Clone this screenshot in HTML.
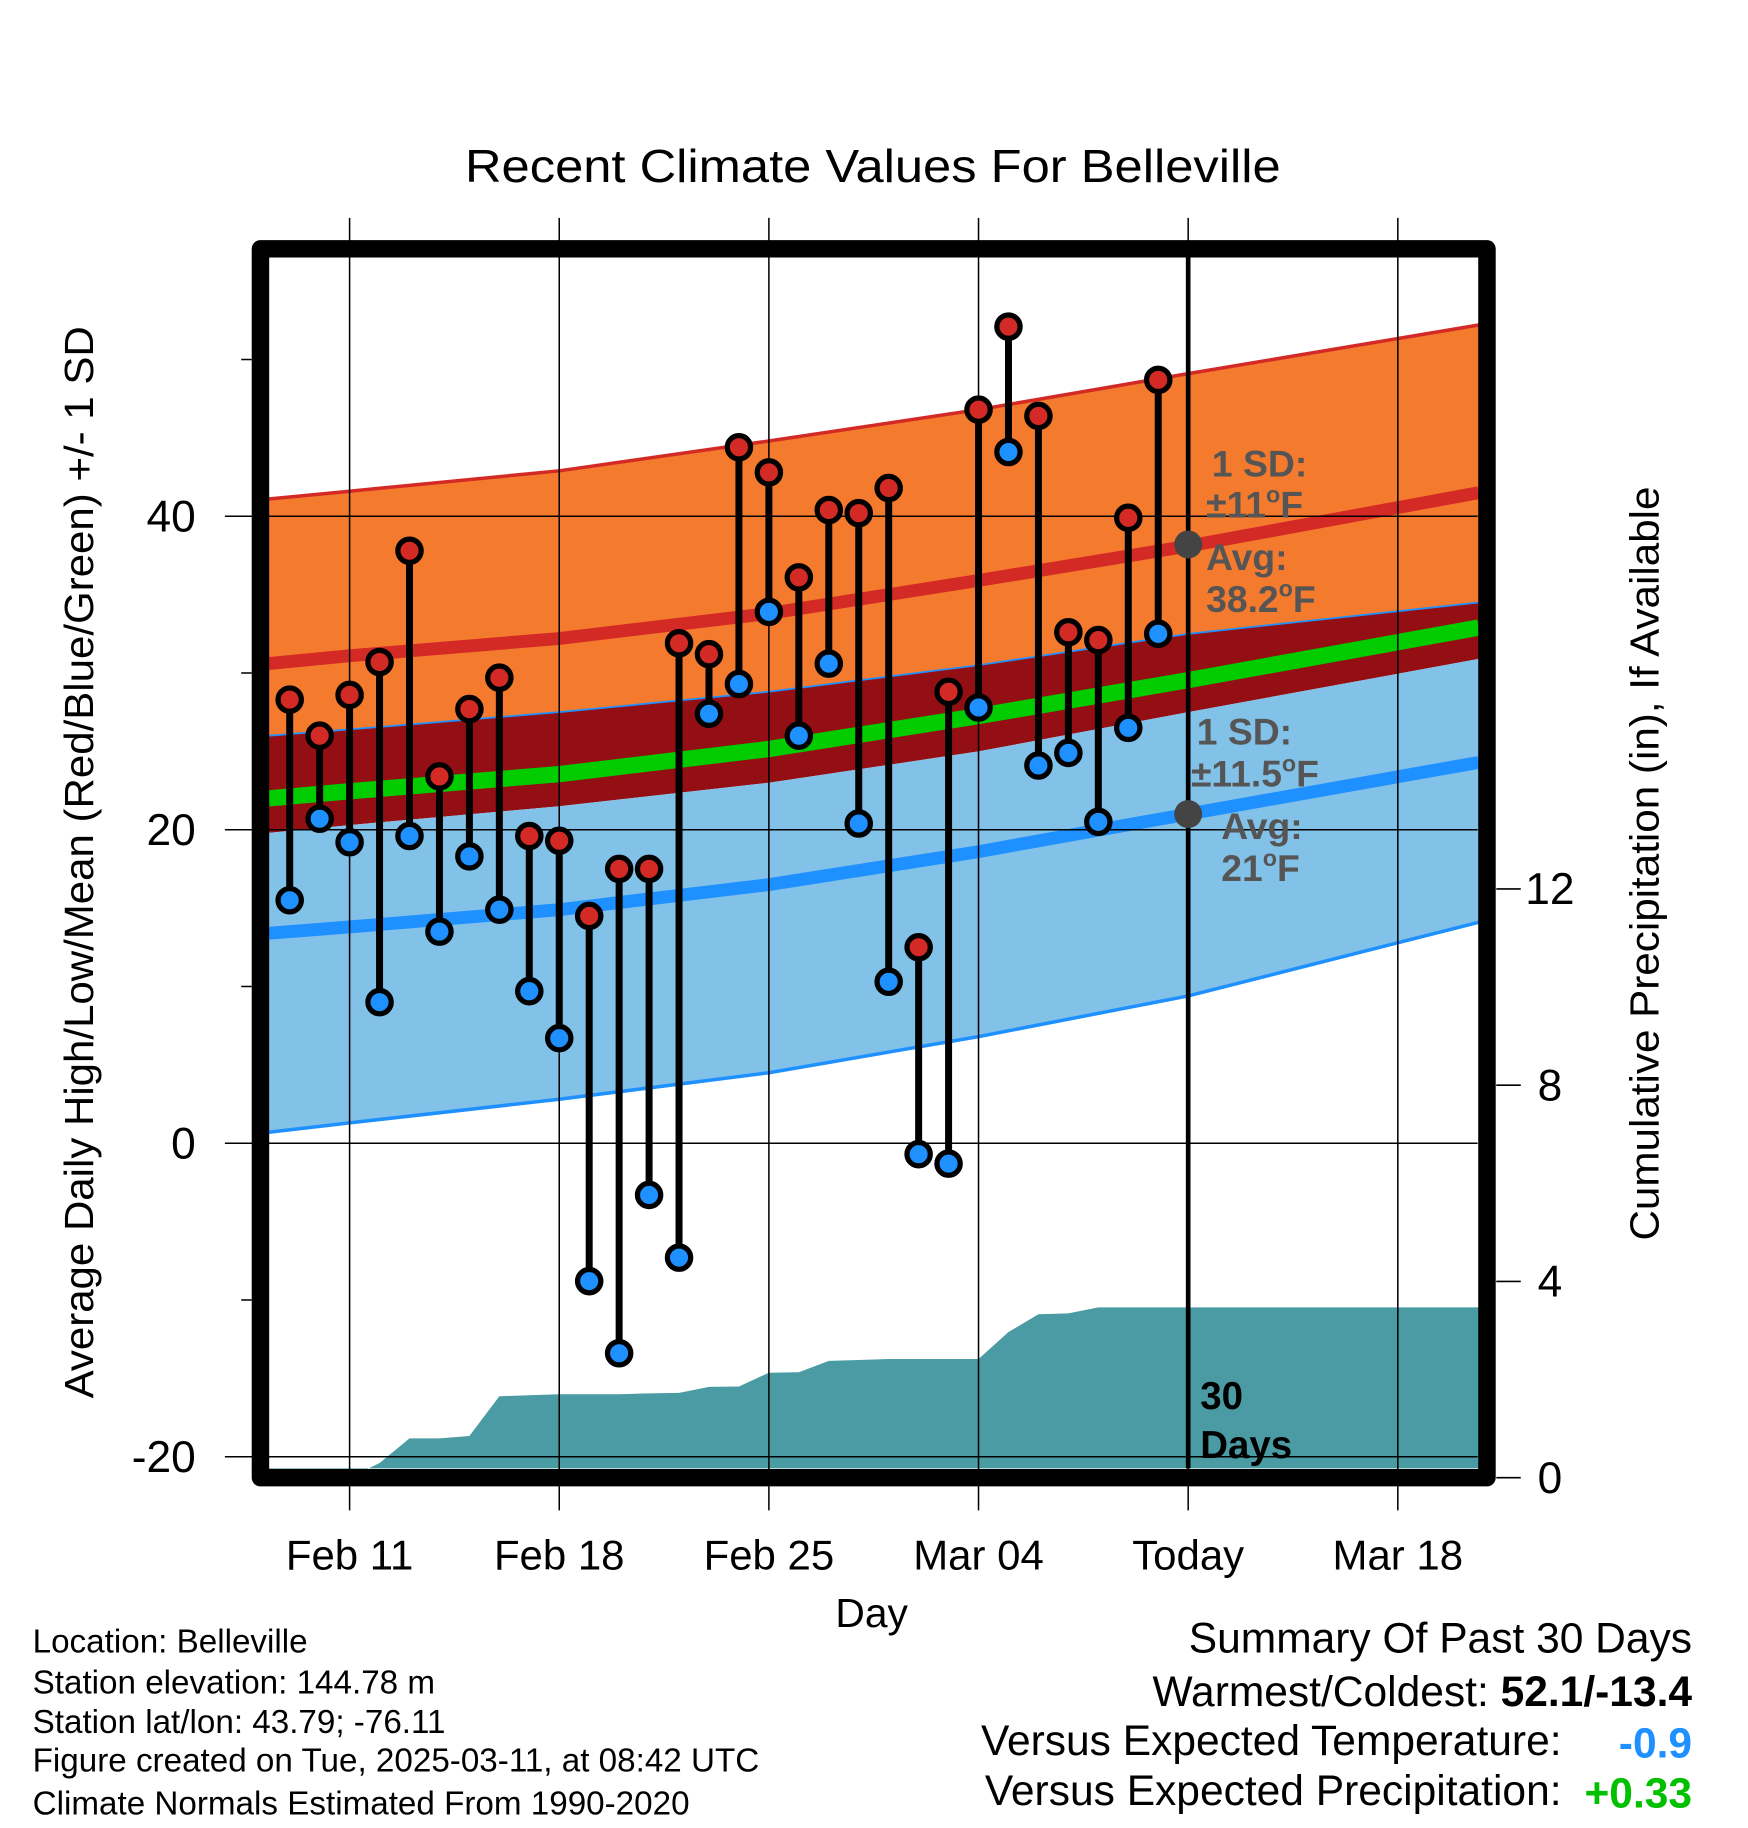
<!DOCTYPE html>
<html><head><meta charset="utf-8"><style>
html,body{margin:0;padding:0;background:#fff;}
svg{display:block;font-family:"Liberation Sans",sans-serif;}
</style></head><body>
<svg id="c" width="1748" height="1828" viewBox="0 0 1500 1568.6" preserveAspectRatio="none" xmlns="http://www.w3.org/2000/svg">
<g id="bands"></g>
<g id="grid"></g>
<g id="marks"></g>
<g id="frame"></g>
<text x="749" y="156" font-size="40" text-anchor="middle" textLength="700" lengthAdjust="spacingAndGlyphs">Recent Climate Values For Belleville</text>
<text x="748" y="1396" font-size="35" text-anchor="middle">Day</text>
<text transform="translate(80,740) rotate(-90)" font-size="35" text-anchor="middle" textLength="920" lengthAdjust="spacingAndGlyphs">Average Daily High/Low/Mean (Red/Blue/Green) +/- 1 SD</text>
<text transform="translate(1423,741) rotate(-90)" font-size="35" text-anchor="middle" textLength="647" lengthAdjust="spacingAndGlyphs">Cumulative Precipitation (in), If Available</text>
<g font-size="32" font-weight="bold" fill="#555">
<text x="1040" y="409">1 SD:</text>
<text x="1035" y="444">±11<tspan font-size="20" dy="-13">o</tspan><tspan dy="13">F</tspan></text>
<text x="1035" y="489">Avg:</text>
<text x="1035" y="525">38.2<tspan font-size="20" dy="-13">o</tspan><tspan dy="13">F</tspan></text>
</g>
<g font-size="32" font-weight="bold" fill="#555">
<text x="1027" y="639">1 SD:</text>
<text x="1022" y="675">±11.5<tspan font-size="20" dy="-13">o</tspan><tspan dy="13">F</tspan></text>
<text x="1048" y="720">Avg:</text>
<text x="1048" y="756">21<tspan font-size="20" dy="-13">o</tspan><tspan dy="13">F</tspan></text>
</g>
<g font-size="33" font-weight="bold">
<text x="1030" y="1209">30</text><text x="1030" y="1251">Days</text>
</g>
<g font-size="28.5">
<text x="28" y="1418">Location: Belleville</text>
<text x="28" y="1453">Station elevation: 144.78 m</text>
<text x="28" y="1487">Station lat/lon: 43.79; -76.11</text>
<text x="28" y="1520">Figure created on Tue, 2025-03-11, at 08:42 UTC</text>
<text x="28" y="1557">Climate Normals Estimated From 1990-2020</text>
</g>
<g font-size="36.5">
<text x="1452" y="1418" text-anchor="end">Summary Of Past 30 Days</text>
<text x="1452" y="1464" text-anchor="end">Warmest/Coldest: <tspan font-weight="bold">52.1/-13.4</tspan></text>
<text x="1340" y="1506" text-anchor="end">Versus Expected Temperature:</text>
<text x="1452" y="1508" text-anchor="end" font-weight="bold" fill="#1e90ff">-0.9</text>
<text x="1340" y="1549" text-anchor="end">Versus Expected Precipitation:</text>
<text x="1452" y="1551" text-anchor="end" font-weight="bold" fill="#00c000">+0.33</text>
</g>
</svg>
<script>
const normDays=[-2.7,0,7,14,21,28,37.7];
const highPlus=[41.1,41.6,42.9,44.8,46.8,49.1,52.2];
const highAvg=[30.6,31.1,32.2,33.8,35.9,38.1,41.5];
const highMinus=[26.0,26.4,27.5,28.8,30.5,32.5,34.5];
const lowPlus=[19.8,20.3,21.5,23.0,25.0,27.5,30.9];
const lowAvg=[13.4,13.8,14.9,16.5,18.6,21.0,24.3];
const lowMinus=[0.7,1.3,2.8,4.5,6.8,9.4,14.1];
const obsDays=[-2,-1,0,1,2,3,4,5,6,7,8,9,10,11,12,13,14,15,16,17,18,19,20,21,22,23,24,25,26,27];
const highs=[28.3,26.0,28.6,30.7,37.8,23.4,27.7,29.7,19.6,19.3,14.5,17.5,17.5,31.9,31.2,44.4,42.8,36.1,40.4,40.2,41.8,12.5,28.8,46.8,52.1,46.4,32.6,32.1,39.9,48.7];
const lows=[15.5,20.7,19.2,9.0,19.6,13.5,18.3,14.9,9.7,6.7,-8.8,-13.4,-3.3,-7.3,27.4,29.3,33.9,26.0,30.6,20.4,10.3,-0.7,-1.3,27.8,44.1,24.1,24.9,20.5,26.5,32.5];
const precipDays=[-2.7,0,1,2,3,4,5,6,7,8,9,10,11,12,13,14,15,16,17,18,19,20,21,22,23,24,25,37.7];
const precipVals=[0,0,0.3,0.8,0.8,0.85,1.66,1.68,1.7,1.7,1.7,1.72,1.73,1.85,1.86,2.14,2.15,2.38,2.4,2.42,2.42,2.42,2.42,2.97,3.33,3.35,3.47,3.47];
const xTickDays=[0,7,14,21,28,35];
const xTickLabels=["Feb 11","Feb 18","Feb 25","Mar 04","Today","Mar 18"];
const yTicks=[-20,0,20,40];
const yMinor=[-10,10,30,50];
const pTicks=[0,4,8,12];
const todayDay=28;

const NS="http://www.w3.org/2000/svg";
const X=d=>300+25.7*d;
const Y=v=>981-13.45*v;
const P=p=>1268-42.1*p;
const L=231,R=1268,T=221,B=1260;
function el(t,a,p){const e=document.createElementNS(NS,t);for(const k in a)e.setAttribute(k,a[k]);p.appendChild(e);return e;}
const bands=document.getElementById('bands'),grid=document.getElementById('grid'),marks=document.getElementById('marks'),frame=document.getElementById('frame');
function pts(arr,days,f){return days.map((d,i)=>X(d).toFixed(1)+','+f(arr[i]).toFixed(1));}
function band(up,lo,fill,name){
  const p=pts(up,normDays,Y).concat(pts(lo,normDays,Y).reverse());
  const e=el('polygon',{points:p.join(' '),fill:fill},bands);
  
  
}
function line(arr,stroke,w,name){
  const e=el('polyline',{points:pts(arr,normDays,Y).join(' '),fill:'none',stroke:stroke,'stroke-width':w},bands);
  
  
}
const meanArr=highAvg.map((h,i)=>(h+lowAvg[i])/2);
band(highPlus,highMinus,'#f47a2e','high-sd-band');
band(highMinus,lowPlus,'#930f14','overlap-band');
band(lowPlus,lowMinus,'#82c1e8','low-sd-band');
line(highPlus,'#d42a26',3,'high-plus-sd-line');
line(highAvg,'#d42a26',11,'high-avg-line');
line(highMinus,'#1e90ff',1.5,'high-minus-sd-line');
line(meanArr,'#00cc00',14,'mean-line');
line(lowAvg,'#1e90ff',11,'low-avg-line');
line(lowMinus,'#1e90ff',3,'low-minus-sd-line');
{
  const p=pts(precipVals,precipDays,P);p.push(X(37.7)+','+B,X(-2.7)+','+B);
  const e=el('polygon',{points:p.join(' '),fill:'#4a9ba3'},bands);
  
  
}
xTickDays.forEach((d,i)=>{
  const g=el('line',{x1:X(d),x2:X(d),y1:187,y2:1296,stroke:'#000','stroke-width':1.3},grid);
  
  
  const t=el('text',{x:X(d),y:1347,'font-size':36,'text-anchor':'middle'},grid);
  t.textContent=xTickLabels[i];
  
  
});
yTicks.forEach(v=>{
  const g=el('line',{x1:193,x2:R,y1:Y(v),y2:Y(v),stroke:'#000','stroke-width':1.3},grid);
  
  
  const t=el('text',{x:168,y:Y(v)+13,'font-size':38,'text-anchor':'end'},grid);
  t.textContent=v;
  
  
});
yMinor.forEach(v=>{
  const g=el('line',{x1:207,x2:216,y1:Y(v),y2:Y(v),stroke:'#000','stroke-width':1.3},grid);
  
  
});
pTicks.forEach(v=>{
  const g=el('line',{x1:1284,x2:1305,y1:P(v),y2:P(v),stroke:'#000','stroke-width':1.3},grid);
  
  
  const t=el('text',{x:1330,y:P(v)+13,'font-size':38,'text-anchor':'middle'},grid);
  t.textContent=v;
  
  
});
{
  const e=el('line',{x1:X(todayDay),x2:X(todayDay),y1:T,y2:B,stroke:'#000','stroke-width':4},marks);
  
  
  const d1=el('circle',{cx:X(todayDay),cy:Y(38.2),r:12,fill:'#444'},marks);
  
  
  const d2=el('circle',{cx:X(todayDay),cy:Y(21),r:12,fill:'#444'},marks);
  
  
}
obsDays.forEach((d,i)=>{
  const s=el('line',{x1:X(d),x2:X(d),y1:Y(highs[i]),y2:Y(lows[i]),stroke:'#000','stroke-width':6},marks);
  
  
  const h=el('circle',{cx:X(d),cy:Y(highs[i]),r:10,fill:'#d42a26',stroke:'#000','stroke-width':4.5},marks);
  
  
  const l=el('circle',{cx:X(d),cy:Y(lows[i]),r:10,fill:'#1e90ff',stroke:'#000','stroke-width':4.5},marks);
  
  
});
{
  const f=el('rect',{x:223.5,y:213.5,width:1052.5,height:1054.5,fill:'none',stroke:'#000','stroke-width':15,'stroke-linejoin':'round'},frame);
  
  
}
</script>
</body></html>
